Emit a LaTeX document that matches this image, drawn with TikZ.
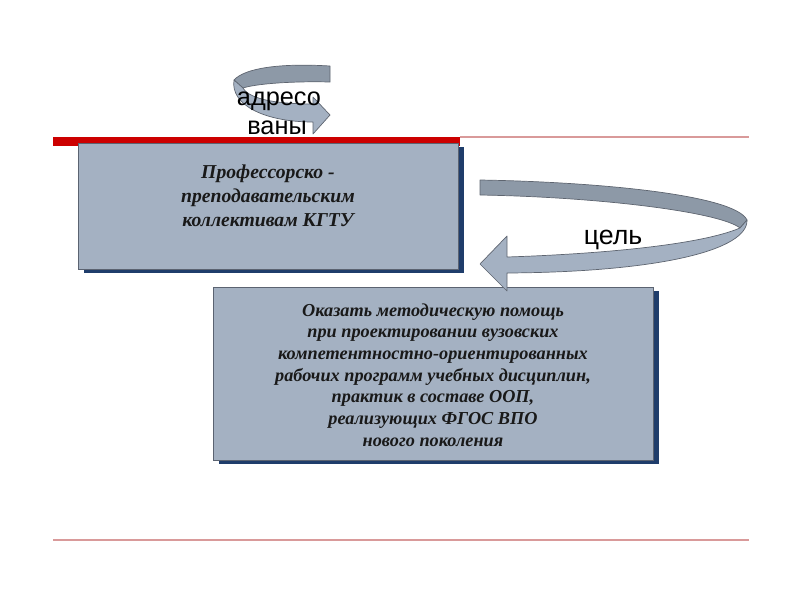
\documentclass[tikz,border=0pt]{standalone}
\usepackage{fontspec}
\setmainfont{Liberation Serif}
\setsansfont{Liberation Sans}
\usetikzlibrary{shadows}
\definecolor{boxfill}{HTML}{A4B1C2}
\definecolor{boxedge}{HTML}{5B6371}
\definecolor{boxshadow}{HTML}{1F3D6B}
\definecolor{ribbonback}{HTML}{8D99A7}
\definecolor{ribbonfront}{HTML}{A4B1C2}
\definecolor{ribbonedge}{HTML}{5E6570}
\definecolor{barred}{HTML}{CC0000}
\definecolor{rulered}{HTML}{D99A9A}
\tikzset{
  goal box/.style={draw=boxedge,line width=.6pt,fill=boxfill,
    drop shadow={shadow xshift=4.2pt,shadow yshift=-2.6pt,fill=boxshadow,opacity=1}},
  goal text/.style={align=center,text=black!90,font=\bfseries\itshape\fontsize{13}{15.4}\selectfont},
  ribbon back/.style={fill=ribbonback,draw=ribbonedge,line width=.5pt,line join=round},
  ribbon front/.style={fill=ribbonfront,draw=ribbonedge,line width=.5pt,line join=round},
  ribbon label/.style={font=\sffamily\fontsize{18}{18}\selectfont,inner sep=0pt},
  thin rule/.style={rulered,line width=.9pt}
}
\begin{document}
\begin{tikzpicture}[x=0.025cm,y=-0.025cm]
  \useasboundingbox (0,0) rectangle (800,600);
  % rules
  \fill[barred] (53,136.5) rectangle (460,145.5);
  \draw[thin rule] (460,137) -- (749,137);
  \draw[thin rule] (53,540) -- (749,540);
  % boxes
  \node[goal box,minimum width=380*0.025cm,minimum height=126*0.025cm] (staff) at (268.5,206) {};
  \node[goal text,font=\bfseries\itshape\fontsize{14}{17}\selectfont] (stafftext) at (268,196) {Профессорско -\\преподавательским\\коллективам КГТУ};
  \node[goal box,minimum width=440*0.025cm,minimum height=173*0.025cm] (aim) at (433,373.5) {};
  \node[goal text] (aimtext) at (433,375) {Оказать методическую помощь\\при проектировании вузовских\\компетентностно-ориентированных\\рабочих программ учебных дисциплин,\\практик в составе ООП,\\реализующих ФГОС ВПО\\нового поколения};
  % ribbon "цель"
  \filldraw[ribbon back] (480,180) .. controls (600,182) and (735,195) .. (747,220) -- (740,228) .. controls (720,212) and (600,197) .. (480,195) -- cycle;
  \filldraw[ribbon front] (740,228) .. controls (700,245) and (600,254) .. (507,257) -- (507,236) -- (480,264) -- (507,291) -- (507,273) .. controls (660,272) and (748,250) .. (747,220) -- cycle;
  \node[ribbon label,font=\sffamily\fontsize{19}{19}\selectfont] (goal) at (613,240) {цель};
  % ribbon "адресованы"
  \filldraw[ribbon back] (330,66) .. controls (280,63) and (245,68) .. (234,80) -- (243,88) .. controls (255,84) and (290,81) .. (330,82) -- cycle;
  \filldraw[ribbon front] (243,88) .. controls (250,100) and (280,104) .. (313,104) -- (313,97) -- (330,115) -- (313,134) -- (313,122) .. controls (265,122) and (230,105) .. (234,80) -- cycle;
  \node[ribbon label] (adr) at (279,101) {адресо};
  \node[ribbon label] (vany) at (277,128) {ваны};
\end{tikzpicture}
\end{document}
